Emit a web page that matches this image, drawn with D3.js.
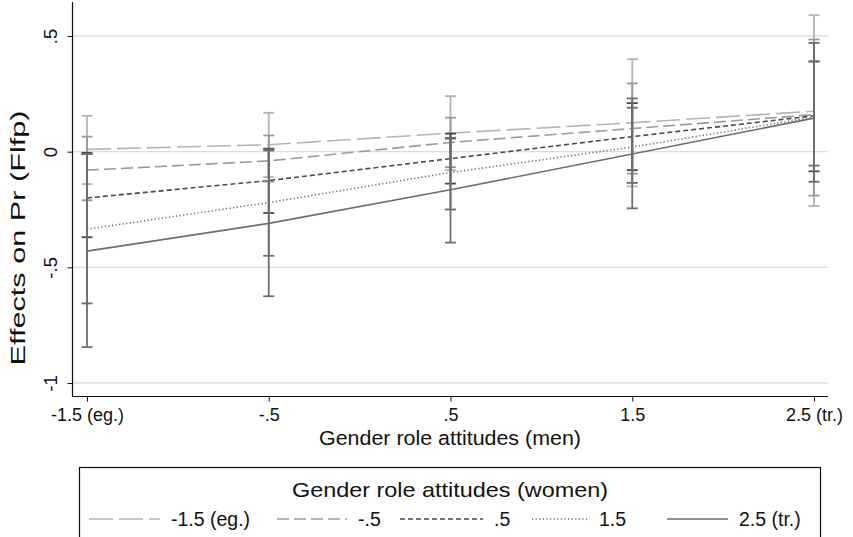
<!DOCTYPE html>
<html><head><meta charset="utf-8">
<script src="https://cdn.jsdelivr.net/npm/d3@7"></script>
<style>
html,body{margin:0;padding:0;background:#fff;}
svg text{font-family:"Liberation Sans",Arial,Helvetica,sans-serif;fill:#111;}
</style></head>
<body><svg id="c" width="853" height="537"></svg>
<script>
// ---- data ----
const menLevels = [-1.5, -0.5, 0.5, 1.5, 2.5];
const xTickLabels = ["-1.5 (eg.)", "-.5", ".5", "1.5", "2.5 (tr.)"];
const yTicks = [-1, -0.5, 0, 0.5];
const yTickLabels = ["-1", "-.5", "0", ".5"];
const seriesNames = ["-1.5 (eg.)", "-.5", ".5", "1.5", "2.5 (tr.)"];
const est_m15 = [0.01, 0.03, 0.08, 0.125, 0.175];
const lo_m15  = [-0.14, -0.11, -0.08, -0.15, -0.235];
const hi_m15  = [0.155, 0.168, 0.24, 0.40, 0.59];
const est_m05 = [-0.08, -0.04, 0.04, 0.10, 0.16];
const lo_m05  = [-0.21, -0.13, -0.067, -0.095, -0.19];
const hi_m05  = [0.065, 0.07, 0.147, 0.295, 0.485];
const est_p05 = [-0.20, -0.125, -0.03, 0.065, 0.155];
const lo_p05  = [-0.37, -0.265, -0.138, -0.08, -0.085];
const hi_p05  = [-0.005, 0.013, 0.078, 0.21, 0.39];
const est_p15 = [-0.335, -0.22, -0.09, 0.02, 0.15];
const lo_p15  = [-0.656, -0.45, -0.25, -0.135, -0.13];
const hi_p15  = [-0.01, 0.01, 0.056, 0.19, 0.47];
const est_p25 = [-0.43, -0.31, -0.165, -0.01, 0.145];
const lo_p25  = [-0.845, -0.625, -0.393, -0.245, -0.06];
const hi_p25  = [-0.01, 0.005, 0.06, 0.23, 0.39];

// ---- styles ----
const styles = [
  {color:"#b4b4b4", dash:"24,6"},
  {color:"#9a9a9a", dash:"12,5"},
  {color:"#4a4a4a", dash:"5,3"},
  {color:"#6a6a6a", dash:"1.2,2.4"},
  {color:"#6e6e6e", dash:null}
];
const series = [
  {est:est_m15, lo:lo_m15, hi:hi_m15},
  {est:est_m05, lo:lo_m05, hi:hi_m05},
  {est:est_p05, lo:lo_p05, hi:hi_p05},
  {est:est_p15, lo:lo_p15, hi:hi_p15},
  {est:est_p25, lo:lo_p25, hi:hi_p25}
].map((s,i)=>({...s, name:seriesNames[i], ...styles[i]}));

const svg = d3.select("#c");
const x = d3.scaleLinear().domain([-1.5, 2.5]).range([87, 814]);
const y = d3.scaleLinear().domain([-1, 0.5]).range([383, 36]);
const plotL = 72.5, plotR = 828, plotT = 2, plotB = 396.5;

// gridlines
svg.append("g").selectAll("line").data(yTicks).join("line")
  .attr("x1", plotL).attr("x2", plotR)
  .attr("y1", d=>y(d)).attr("y2", d=>y(d))
  .attr("stroke", "#dcdcdc").attr("stroke-width", 1.3);

// lines
const line = d3.line().x((d,i)=>x(menLevels[i])).y(d=>y(d));
svg.append("g").selectAll("path").data(series).join("path")
  .attr("d", d=>line(d.est))
  .attr("fill","none").attr("stroke", d=>d.color)
  .attr("stroke-width", 1.6)
  .attr("stroke-dasharray", d=>d.dash);

// error bars
const cap = 5.5;
series.forEach(s=>{
  const g = svg.append("g").attr("stroke", s.color).attr("stroke-width", 1.8);
  menLevels.forEach((m,i)=>{
    g.append("line").attr("x1",x(m)).attr("x2",x(m)).attr("y1",y(s.lo[i])).attr("y2",y(s.hi[i]));
    g.append("line").attr("x1",x(m)-cap).attr("x2",x(m)+cap).attr("y1",y(s.lo[i])).attr("y2",y(s.lo[i]));
    g.append("line").attr("x1",x(m)-cap).attr("x2",x(m)+cap).attr("y1",y(s.hi[i])).attr("y2",y(s.hi[i]));
  });
});

// axes
const xAxis = d3.axisBottom(x).tickValues(menLevels).tickFormat((d,i)=>xTickLabels[i]).tickSize(5).tickSizeOuter(0);
const gx = svg.append("g").attr("transform",`translate(0,${plotB})`).call(xAxis);
gx.select(".domain").remove();
gx.append("line").attr("x1",plotL).attr("x2",plotR).attr("stroke","#111").attr("stroke-width",1.2);
gx.selectAll(".tick line").attr("stroke","#111").attr("stroke-width",1);
gx.selectAll(".tick text").attr("font-size",18).attr("font-family",null).attr("fill","#111").attr("dy","0.95em").attr("y",7);

const yAxis = d3.axisLeft(y).tickValues(yTicks).tickFormat((d,i)=>yTickLabels[i]).tickSize(5).tickSizeOuter(0);
const gy = svg.append("g").attr("transform",`translate(${plotL},0)`).call(yAxis);
gy.select(".domain").remove();
gy.append("line").attr("y1",plotT).attr("y2",plotB).attr("stroke","#111").attr("stroke-width",1.2);
gy.selectAll(".tick line").attr("stroke","#111").attr("stroke-width",1);
gy.selectAll(".tick text").attr("font-size",18.5).attr("font-family",null).attr("fill","#111")
  .attr("x",null).attr("dy",null).attr("text-anchor","middle")
  .attr("transform","translate(-16,0) rotate(-90)");

// axis titles
svg.append("text").attr("x",450).attr("y",445).attr("text-anchor","middle").attr("font-size",20.5)
  .attr("textLength",262).attr("lengthAdjust","spacingAndGlyphs")
  .text("Gender role attitudes (men)");
svg.append("text").attr("transform","translate(25,238) rotate(-90)").attr("text-anchor","middle").attr("font-size",21)
  .attr("textLength",255).attr("lengthAdjust","spacingAndGlyphs")
  .text("Effects on Pr (Flfp)");

// legend
svg.append("rect").attr("x",79.5).attr("y",467.5).attr("width",741).attr("height",100)
  .attr("fill","#fff").attr("stroke","#111").attr("stroke-width",1.2);
svg.append("text").attr("x",450).attr("y",497).attr("text-anchor","middle").attr("font-size",21)
  .attr("textLength",316).attr("lengthAdjust","spacingAndGlyphs")
  .text("Gender role attitudes (women)");
const legX = [89, 277, 400, 532, 667];
const legW = [71, 70, 83, 56, 61];
const li = svg.append("g").selectAll("g").data(series).join("g")
  .attr("transform",(d,i)=>`translate(${legX[i]},519)`);
li.append("line").attr("x1",0).attr("x2",(d,i)=>legW[i]).attr("y1",0).attr("y2",0)
  .attr("stroke",d=>d.color).attr("stroke-width",1.5).attr("stroke-dasharray",d=>d.dash);
li.append("text").attr("x",(d,i)=>legW[i]+11).attr("y",7).attr("font-size",19.5).text(d=>d.name);
</script></body></html>
